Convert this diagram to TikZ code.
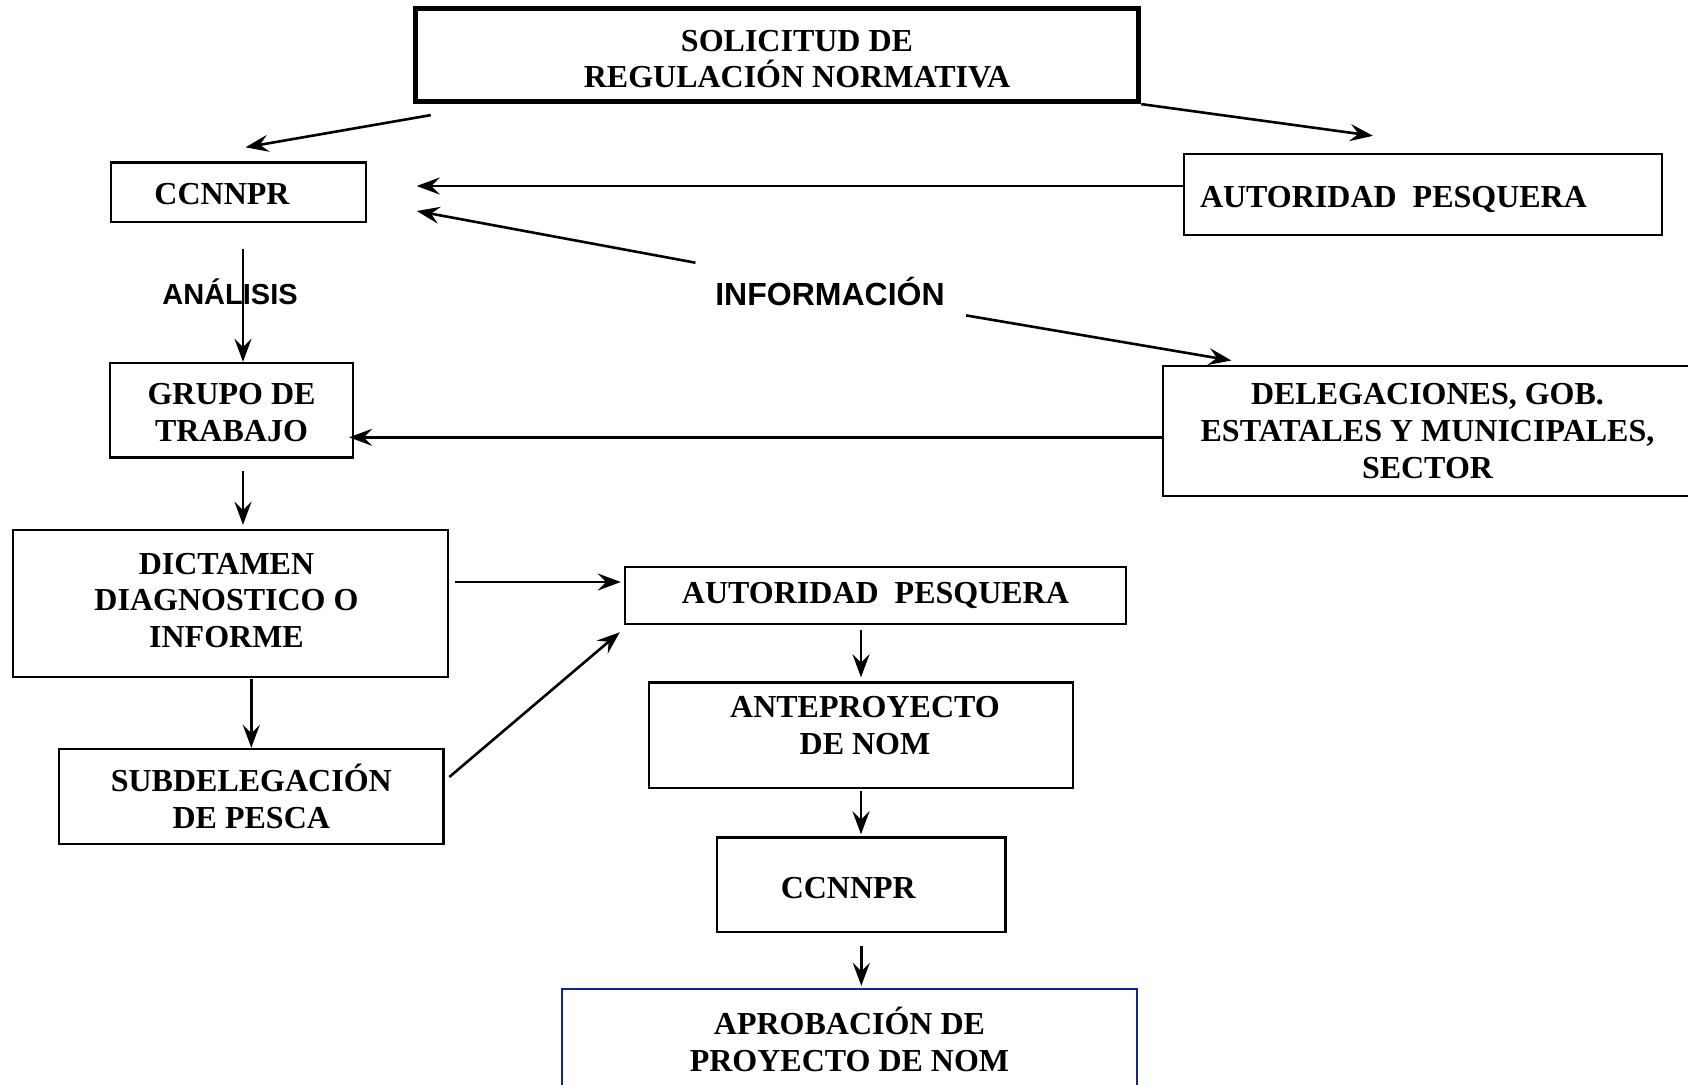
\documentclass[tikz,border=0pt]{standalone}
\usepackage{fontspec}
\setmainfont{Liberation Serif}
\newfontfamily\sansfont{Liberation Sans}
\usetikzlibrary{arrows.meta}
\definecolor{navy}{HTML}{14248C}
\newcommand{\boxfont}{\fontsize{16}{18.3}\selectfont\bfseries}

\begin{document}
\begin{tikzpicture}[x=0.5pt,y=-0.5pt,
      box/.style={draw,line width=1.2pt,inner sep=0pt,align=center,font=\boxfont},
      txt/.style={align=center,font=\boxfont,inner sep=0pt},
      tag/.style={inner sep=0pt,font=\sansfont\bfseries\fontsize{#1}{#1}\selectfont},
      arrow/.style={-{Stealth[length=11.5pt,width=8.5pt,inset=4.2pt]},line width=1.3pt}]
      \useasboundingbox (0,0) rectangle (1688,1084);
      % boxes
      \node[box,line width=2.4pt,minimum width=361.8pt,minimum height=46.7pt,
        label={[txt,name=solT,xshift=10pt,yshift=-2pt]center:{SOLICITUD DE\\REGULACIÓN NORMATIVA}}] (sol) at (777,55) {};
      \node[box,minimum width=127.5pt,minimum height=29.8pt,
        label={[txt,name=ccn1T,xshift=-8.25pt,yshift=-0.75pt]center:CCNNPR}] (ccn1) at (238.5,192.3) {};
      \node[box,minimum width=239pt,minimum height=40.5pt,
        label={[txt,name=aut1T,xshift=-14.75pt,yshift=-2.25pt]center:{AUTORIDAD~~PESQUERA}}] (aut1) at (1423,194.5) {};
      \node[box,minimum width=121.5pt,minimum height=47.3pt,
        label={[txt,name=grupoT,yshift=-1.2pt]center:{GRUPO DE\\TRABAJO}}] (grupo) at (231.5,410.3) {};
      \node[box,minimum width=264.5pt,minimum height=65pt] (deleg) at (1427.5,431) {DELEGACIONES, GOB.\\ESTATALES Y MUNICIPALES,\\SECTOR};
      \node[box,minimum width=217.5pt,minimum height=73.5pt,
        label={[txt,name=dictT,xshift=-2pt,yshift=1.5pt]center:{DICTAMEN\\DIAGNOSTICO O\\INFORME}}] (dict) at (230.5,603.5) {};
      \node[box,minimum width=192.3pt,minimum height=47.5pt] (subd) at (251.3,796.5) {SUBDELEGACIÓN\\DE PESCA};
      \node[box,minimum width=250.5pt,minimum height=28.5pt] (aut2) at (875.5,595.5) {AUTORIDAD~~PESQUERA};
      \node[box,minimum width=212pt,minimum height=52.8pt,
        label={[txt,name=anteT,xshift=2pt,yshift=5pt]center:{ANTEPROYECTO\\DE NOM}}] (ante) at (861,735.3) {};
      \node[box,minimum width=144.3pt,minimum height=47.3pt,
        label={[txt,name=ccn2T,xshift=-6.5pt,yshift=-1.5pt]center:CCNNPR}] (ccn2) at (861.3,884.8) {};
      \node[box,draw=navy,minimum width=287.5pt,minimum height=50.5pt] (aprob) at (849.5,1039.5) {APROBACIÓN DE\\PROYECTO DE NOM};
      % labels
      \node[tag=14.5] (anal) at (230,291.7) {ANÁLISIS};
      \node[tag=16] (info) at (830,291.7) {INFORMACIÓN};
      % arrows
      \coordinate (ccnIn) at ([shift={(49.5,-6.3)}]ccn1.east);
      \coordinate (grupoIn) at ([shift={(-5,27)}]grupo.east);
      \coordinate (dictOut) at ([shift={(6,-21.5)}]dict.east);
      \coordinate (analTop) at ([shift={(4.5,25.6)}]ccn1.south);
      \draw[arrow] ([shift={(18,11)}]sol.south west) -- ([shift={(7,-14)}]ccn1.north);
      \draw[arrow] (sol.south east) -- ([shift={(-50,-17)}]aut1.north);
      \draw[arrow] (aut1.west |- ccnIn) -- (ccnIn);
      \draw[arrow] ([shift={(-19.5,-29)}]info.west) -- ([shift={(49.5,18.7)}]ccn1.east);
      \draw[arrow] ([shift={(21,23.7)}]info.east) -- ([shift={(69.6,-4.3)}]deleg.north west);
      \draw[arrow] (analTop) -- (analTop |- grupo.north);
      \draw[arrow] (deleg.west |- grupoIn) -- (grupoIn);
      \draw[arrow] ([shift={(11.5,12.5)}]grupo.south) -- ([shift={(12.5,-4)}]dict.north);
      \draw[arrow,shorten <=0.5pt] (dict.south -| subd.north) -- (subd.north);
      \draw[arrow,shorten >=1.5pt] (dictOut) -- (dictOut -| aut2.west);
      \draw[arrow] ([shift={(4.5,-19.5)}]subd.east) -- ([shift={(-4,7)}]aut2.south west);
      \draw[arrow,shorten <=2.5pt,shorten >=2pt] (aut2.south -| ante.north) -- (ante.north);
      \draw[arrow,shorten <=1pt,shorten >=1pt] (ante.south) -- (ante.south |- ccn2.north);
      \draw[arrow,shorten <=6.5pt,shorten >=1pt] (ccn2.south) -- (ccn2.south |- aprob.north);
    \end{tikzpicture}
\end{document}
